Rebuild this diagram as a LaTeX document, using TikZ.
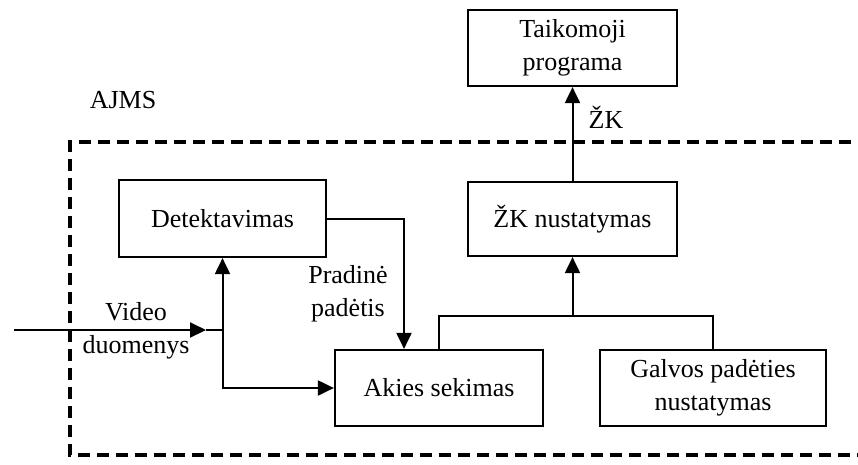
\documentclass[tikz,border=0pt]{standalone}
\usepackage{fontspec}
\setmainfont{Liberation Serif}
\usetikzlibrary{arrows.meta,calc}
\begin{document}
\begin{tikzpicture}[x=1pt,y=-1pt,
  box/.style={draw,line width=2.2pt,minimum width=#1,inner sep=0pt,align=center,font=\fontsize{26}{33}\selectfont},
  box/.default=208pt,
  conn/.style={line width=2pt},
  arr/.style={conn,-{Triangle[length=16pt,width=15pt]}},
  lbl/.style={align=center,inner sep=0pt,font=\fontsize{26}{33}\selectfont},
  frame/.style={line width=3.2pt,dash pattern=on 12pt off 7pt}]
\useasboundingbox (0,0) rectangle (858,464);
\clip (0,0) rectangle (858,464);
\draw[frame] (870,142) -- (70,142) -- (70,455) -- (870,455);
\node[box=209pt,minimum height=76pt] (taik) at (572.5,48) {Taikomoji\\programa};
\node[box=209pt,minimum height=74pt] (zk) at (572.5,219) {ŽK nustatymas};
\node[box=207pt,minimum height=77pt] (det) at (222.5,218.5) {Detektavimas};
\node[box=208pt,minimum height=76pt] (akies) at (439,388) {Akies sekimas};
\node[box=226pt,minimum height=76pt] (galvos) at (713,388) {Galvos padėties\\nustatymas};
\node[lbl] (ajms) at (123,100) {AJMS};
\node[lbl] (zkl) at (606,117) {ŽK};
\node[lbl] (video) at (136,331) {Video\\duomenys};
\node[lbl] (prad) at (348,294) {Pradinė\\padėtis};
\coordinate (vin) at (14,330);
\coordinate (vtip) at (206,330);
\coordinate (j) at (222.5,330);
\coordinate (dturn) at (404,218);
\coordinate (bus) at (439,316);
\draw[arr] (vin) -- (vtip);
\draw[conn] (vtip) -- (j);
\draw[arr] (j) -- (det.south);
\draw[arr] (j) |- (akies.west);
\draw[arr] (det.east) -| (dturn |- akies.north);
\draw[conn] (akies.north) -- (bus) -| (galvos.north);
\draw[arr] (zk.south |- bus) -- (zk.south);
\draw[arr] (zk.north) -- (taik.south);
\end{tikzpicture}
\end{document}
